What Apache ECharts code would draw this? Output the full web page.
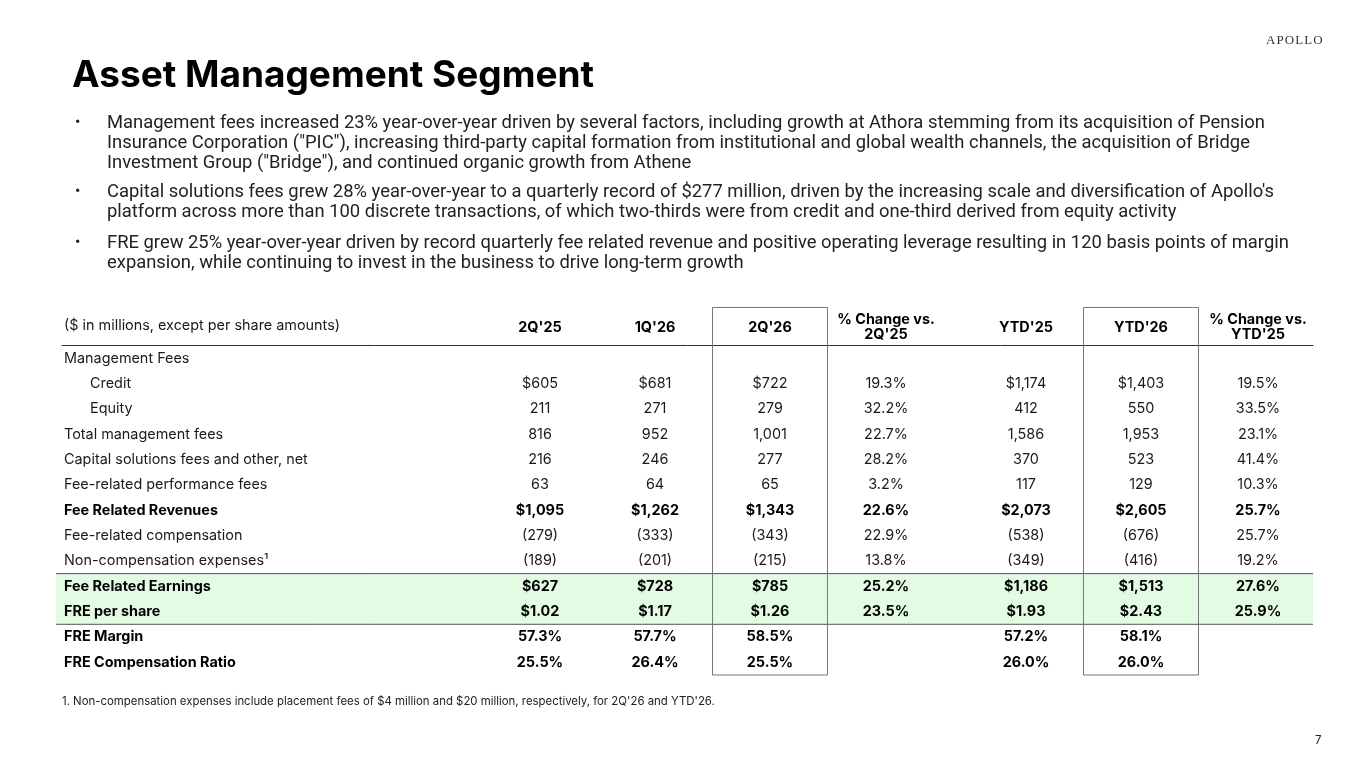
<!DOCTYPE html>
<html>
<head>
<meta charset="utf-8">
<script src="https://cdn.jsdelivr.net/npm/echarts@6/dist/echarts.min.js"></script>
<style>
  html, body { margin: 0; padding: 0; background: #fff; }
  #main { width: 1365px; height: 768px; }
</style>
</head>
<body>
<div id="main"></div>
<script>
// 表格数据
const rowLabels = [
    'Management Fees', 'Credit', 'Equity', 'Total management fees',
    'Capital solutions fees and other, net', 'Fee-related performance fees',
    'Fee Related Revenues', 'Fee-related compensation', 'Non-compensation expenses¹',
    'Fee Related Earnings', 'FRE per share', 'FRE Margin', 'FRE Compensation Ratio'
];
const colHeaders = ["2Q'25", "1Q'26", "2Q'26", "% Change vs.\n2Q'25", "YTD'25", "YTD'26", "% Change vs.\nYTD'25"];
const q2_25 = ['', '$605', '211', '816', '216', '63', '$1,095', '(279)', '(189)', '$627', '$1.02', '57.3%', '25.5%'];
const q1_26 = ['', '$681', '271', '952', '246', '64', '$1,262', '(333)', '(201)', '$728', '$1.17', '57.7%', '26.4%'];
const q2_26 = ['', '$722', '279', '1,001', '277', '65', '$1,343', '(343)', '(215)', '$785', '$1.26', '58.5%', '25.5%'];
const chgQ = ['', '19.3%', '32.2%', '22.7%', '28.2%', '3.2%', '22.6%', '22.9%', '13.8%', '25.2%', '23.5%', '', ''];
const ytd25 = ['', '$1,174', '412', '1,586', '370', '117', '$2,073', '(538)', '(349)', '$1,186', '$1.93', '57.2%', '26.0%'];
const ytd26 = ['', '$1,403', '550', '1,953', '523', '129', '$2,605', '(676)', '(416)', '$1,513', '$2.43', '58.1%', '26.0%'];
const chgY = ['', '19.5%', '33.5%', '23.1%', '41.4%', '10.3%', '25.7%', '25.7%', '19.2%', '27.6%', '25.9%', '', ''];
const columns = [q2_25, q1_26, q2_26, chgQ, ytd25, ytd26, chgY];

const boldRows = [6, 9, 10, 11, 12];
const indentRows = [1, 2];
const greenRows = [9, 10];
const boxedCols = [2, 5];

// 版面 (x 轴单位 = 像素)
const colX = [540, 655, 770, 886, 1026, 1141, 1258];
const FONT = 'Inter';
const FS = 14.4;

let cells = [];
columns.forEach(function (col, c) {
    col.forEach(function (txt, r) {
        if (txt !== '') cells.push([colX[c], r, txt, boldRows.indexOf(r) >= 0 ? 1 : 0]);
    });
});
let headerItems = colHeaders.map(function (h, c) { return [colX[c], 0, h]; });

let chart = echarts.init(document.getElementById('main'));

const bullets = [
    'Management fees increased 23% year-over-year driven by several factors, including growth at Athora stemming from its acquisition of Pension\nInsurance Corporation ("PIC"), increasing third-party capital formation from institutional and global wealth channels, the acquisition of Bridge\nInvestment Group ("Bridge"), and continued organic growth from Athene',
    "Capital solutions fees grew 28% year-over-year to a quarterly record of $277 million, driven by the increasing scale and diversification of Apollo's\nplatform across more than 100 discrete transactions, of which two-thirds were from credit and one-third derived from equity activity",
    'FRE grew 25% year-over-year driven by record quarterly fee related revenue and positive operating leverage resulting in 120 basis points of margin\nexpansion, while continuing to invest in the business to drive long-term growth'
];
const bulletTop = [112, 181, 232];

let graphics = [
    { type: 'text', left: 72, top: 57, style: { text: 'Asset Management Segment', font: 'bold 37px ' + FONT, fill: '#000' } },
    { type: 'text', left: 1266, top: 34, style: { text: 'A\u200aP\u200aO\u200aL\u200aL\u200aO', font: '13px "Liberation Serif"', fill: '#333' } },
    { type: 'text', left: 62, top: 696, style: { text: "1. Non-compensation expenses include placement fees of $4 million and $20 million, respectively, for 2Q'26 and YTD'26.", font: '11.4px ' + FONT, fill: '#222' } },
    { type: 'text', left: 1315, top: 735, style: { text: '7', font: '11.5px ' + FONT, fill: '#222' } },
    { type: 'text', left: 64, top: 319, style: { text: '($ in millions, except per share amounts)', font: FS + 'px ' + FONT, fill: '#1a1a1a' } }
];
bullets.forEach(function (b, i) {
    graphics.push({ type: 'text', left: 75, top: bulletTop[i] + 1, style: { text: '•', font: '16px Roboto', fill: '#222', lineHeight: 20.3 } });
    graphics.push({ type: 'text', left: 107, top: bulletTop[i] + 1, style: { text: b, font: '18.4px Roboto', fill: '#222', lineHeight: 20.3 } });
});

let option = {
    animation: false,
    backgroundColor: '#fff',
    graphic: graphics,
    grid: { left: 62, right: 52, top: 345.5, bottom: 93, containLabel: false },
    xAxis: {
        type: 'value', position: 'top', min: 62, max: 1313,
        axisLine: { show: true, onZero: false, lineStyle: { color: '#333', width: 1 } },
        axisTick: { show: false }, axisLabel: { show: false }, splitLine: { show: false }
    },
    yAxis: {
        type: 'category', inverse: true, data: rowLabels, z: 10,
        axisLine: { show: false }, axisTick: { show: false }, splitLine: { show: false },
        axisLabel: {
            inside: true, margin: 2, color: '#1a1a1a', fontFamily: FONT, fontSize: FS,
            formatter: function (v, i) {
                if (indentRows.indexOf(i) >= 0) return '{i|' + v + '}';
                if (boldRows.indexOf(i) >= 0) return '{b|' + v + '}';
                return v;
            },
            rich: {
                i: { padding: [0, 0, 0, 26], fontFamily: FONT, fontSize: FS, color: '#1a1a1a' },
                b: { fontWeight: 'bold', fontFamily: FONT, fontSize: FS, color: '#000' }
            }
        }
    },
    series: [
        {
            // 绿色高亮行
            type: 'custom', z: 1, clip: false,
            data: [[greenRows[0], greenRows[greenRows.length - 1]]],
            encode: { y: [0, 1] },
            renderItem: function (params, api) {
                let bh = api.size([0, 1])[1];
                let top = api.coord([62, api.value(0)])[1] - bh / 2;
                let bot = api.coord([62, api.value(1)])[1] + bh / 2;
                let x0 = api.coord([56, 0])[0], x1 = api.coord([1313, 0])[0];
                return {
                    type: 'group', children: [
                        { type: 'rect', shape: { x: x0, y: top, width: x1 - x0, height: bot - top }, style: { fill: '#e3fbe3' } },
                        { type: 'line', shape: { x1: x0, y1: top, x2: x1, y2: top }, style: { stroke: '#555', lineWidth: 1 } },
                        { type: 'line', shape: { x1: x0, y1: bot, x2: x1, y2: bot }, style: { stroke: '#555', lineWidth: 1 } }
                    ]
                };
            }
        },
        {
            // 2Q'26 和 YTD'26 外框
            type: 'custom', z: 2, clip: false,
            data: boxedCols.map(function (c) { return [colX[c], 0]; }),
            renderItem: function (params, api) {
                let bh = api.size([0, 1])[1];
                let cx = api.coord([api.value(0), 0])[0];
                let top = api.coord([api.value(0), 0])[1] - bh / 2 - 38;
                let bot = api.coord([api.value(0), rowLabels.length - 1])[1] + bh / 2;
                return {
                    type: 'rect',
                    shape: { x: cx - 57.5, y: top, width: 115, height: bot - top },
                    style: { fill: 'none', stroke: '#777', lineWidth: 1 }
                };
            }
        },
        {
            // 表头
            type: 'custom', z: 3, clip: false,
            data: headerItems,
            renderItem: function (params, api) {
                let p = api.coord([api.value(0), 0]);
                return {
                    type: 'text', x: p[0], y: p[1] - 30.7,
                    style: {
                        text: headerItems[params.dataIndex][2], align: 'center', verticalAlign: 'middle',
                        font: 'bold ' + FS + 'px ' + FONT, fill: '#000', lineHeight: 15
                    }
                };
            }
        },
        {
            // 数值单元格
            type: 'custom', z: 3, clip: false,
            data: cells,
            renderItem: function (params, api) {
                let cell = cells[params.dataIndex];
                let p = api.coord([cell[0], cell[1]]);
                return {
                    type: 'text', x: p[0], y: p[1],
                    style: {
                        text: cell[2], align: 'center', verticalAlign: 'middle',
                        font: (cell[3] ? 'bold ' : '') + FS + 'px ' + FONT, fill: cell[3] ? '#000' : '#1a1a1a'
                    }
                };
            }
        }
    ]
};

chart.setOption(option);
</script>
</body>
</html>
